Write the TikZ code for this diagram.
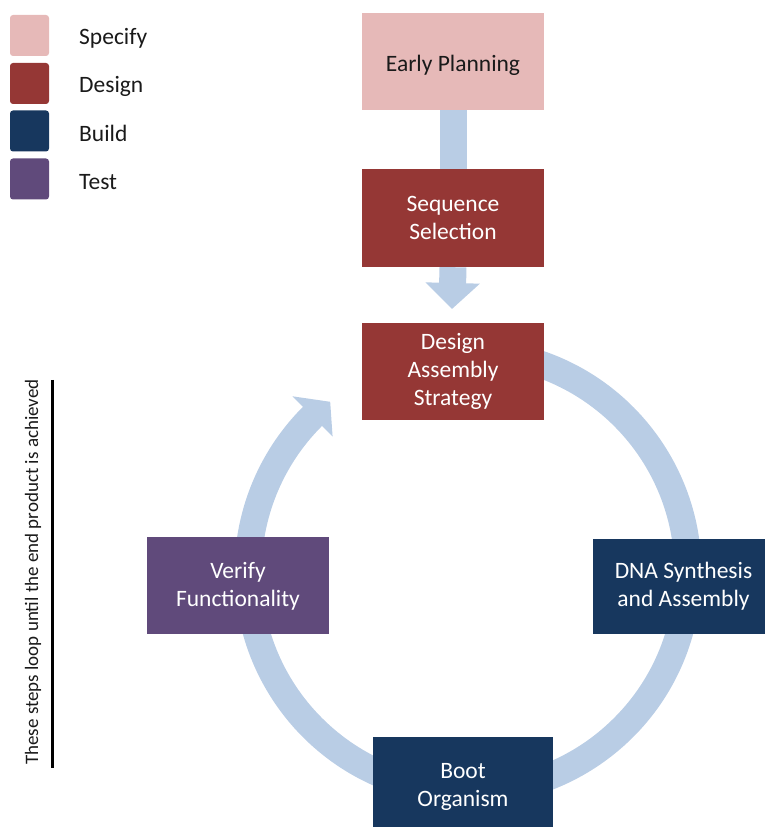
\documentclass[tikz,border=0pt]{standalone}
\usepackage{fontspec}
\setmainfont{Carlito}
\usetikzlibrary{arrows.meta,backgrounds}
\definecolor{specc}{HTML}{E6B9B8}
\definecolor{desc}{HTML}{953735}
\definecolor{buildc}{HTML}{17375E}
\definecolor{testc}{HTML}{604A7B}
\definecolor{arrc}{HTML}{B9CDE5}
\definecolor{txtc}{HTML}{1A1A1A}
\tikzset{
  boxbase/.style={rectangle, inner sep=0pt, align=center, font=\fontsize{23.5}{28}\selectfont, text=white},
  specbox/.style={boxbase, fill=specc, text=txtc},
  desbox/.style={boxbase, fill=desc},
  buildbox/.style={boxbase, fill=buildc},
  testbox/.style={boxbase, fill=testc},
  legsq/.style={rectangle, rounded corners=3pt, minimum width=39pt, minimum height=41pt, inner sep=0pt},
  leglabel/.style={anchor=west, inner sep=0pt, text=txtc, font=\fontsize{23.5}{28}\selectfont},
  flowarrow/.style={draw=arrc, line width=27pt},
}
\begin{document}
\begin{tikzpicture}[x=1pt,y=1pt]
\useasboundingbox (0,0) rectangle (764,827);
% legend
\node[legsq, fill=specc] (lsq1) at (29.5,791.5) {};
\node[legsq, fill=desc] (lsq2) at (29.5,743.5) {};
\node[legsq, fill=buildc] (lsq3) at (29.5,696) {};
\node[legsq, fill=testc] (lsq4) at (29.5,648) {};
\node[leglabel] (ll1) at (79,789) {Specify};
\node[leglabel] (ll2) at (79,741) {Design};
\node[leglabel] (ll3) at (79,694) {Build};
\node[leglabel] (ll4) at (79,645) {Test};
% boxes
\node[specbox, minimum width=182pt, minimum height=97pt, text height=24pt, text depth=3pt] (ep) at (453,765.5) {Early Planning};
\node[desbox, minimum width=182pt, minimum height=98pt] (ss) at (453,609) {Sequence\\Selection};
\node[desbox, minimum width=182pt, minimum height=97pt] (das) at (453,455.5) {Design\\Assembly\\Strategy};
\node[buildbox, minimum width=181pt, minimum height=95pt] (dna) at (683.5,240.5) {DNA Synthesis\\and Assembly};
\node[buildbox, minimum width=180pt, minimum height=100pt] (boot) at (463,40) {Boot\\Organism};
\node[testbox, minimum width=182pt, minimum height=97pt] (ver) at (238,241) {Verify\\Functionality};
% side note
\node[rotate=90, inner sep=0pt, text=txtc, font=\fontsize{19}{22}\selectfont] (note) at (33,255) {These steps loop until the end product is achieved};
\coordinate (bartop) at (52,447);
\coordinate (barbot) at (52,59);
\draw[line width=3pt, black] (bartop) -- (barbot);
% arrows
\coordinate (tip2) at (452,518);
\coordinate (c) at (468,255);
\begin{scope}[on background layer]
\draw[flowarrow] (ep.south) -- (ss.north);
\draw[flowarrow, -{Triangle[length=26pt,width=53pt]}] (ss.south) -- (tip2);
\fill[arrc, shift={(c)}] (80:233.5) arc[start angle=80, end angle=-225, radius=233.5]
  -- (-225:248.5) -- (-231:219) -- (-225:191.5) -- (-225:206.5)
  arc[start angle=-225, end angle=80, radius=206.5] -- cycle;
\end{scope}
\end{tikzpicture}
\end{document}
